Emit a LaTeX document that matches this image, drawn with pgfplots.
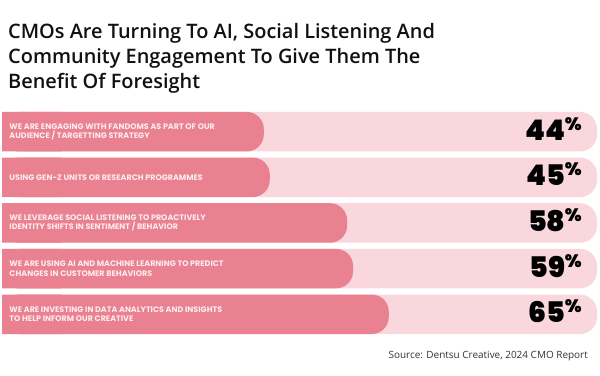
\documentclass[border=0pt]{standalone}
\usepackage{fontspec}
\usepackage{pgfplots}
\pgfplotsset{compat=1.18}
\setmainfont{Open Sans}
\IfFontExistsTF{Open Sans SemiBold}
  {\newfontfamily\titlefont{Open Sans SemiBold}}
  {\IfFontExistsTF{Open Sans Semibold}
     {\newfontfamily\titlefont{Open Sans Semibold}}
     {\newfontfamily\titlefont{Open Sans}[FakeBold=1.3]}}
\newfontfamily\labfont{Poppins}
\IfFontExistsTF{Poppins Black}
  {\newfontfamily\pctfont{Poppins Black}}
  {\IfFontExistsTF{Poppins ExtraBold}
     {\newfontfamily\pctfont{Poppins ExtraBold}}
     {\newfontfamily\pctfont{Poppins Bold}}}
\definecolor{fg}{RGB}{233,129,144}
\definecolor{bg}{RGB}{249,215,220}
\definecolor{labtext}{RGB}{253,236,239}
\definecolor{titlec}{RGB}{17,17,17}
\newcommand{\pct}[1]{{\pctfont\fontsize{28.5}{28.5}\selectfont #1\kern-0.5bp\raisebox{10bp}{\fontsize{18}{18}\selectfont\%}}}
\begin{document}
\begin{tikzpicture}[x=1bp,y=1bp]
\path (0,0) rectangle (600,375);
\node[anchor=base west, inner sep=0, text=titlec, font=\titlefont\fontsize{20}{24}\selectfont] at (8,337) {CMOs Are Turning To AI, Social Listening And};
\node[anchor=base west, inner sep=0, text=titlec, font=\titlefont\fontsize{20}{24}\selectfont] at (8,312) {Community Engagement To Give Them The};
\node[anchor=base west, inner sep=0, text=titlec, font=\titlefont\fontsize{20}{24}\selectfont] at (8,287) {Benefit Of Foresight};
\node[anchor=base east, inner sep=0, text=black!80, font=\fontsize{10}{12}\selectfont] at (588,16.5) {Source: Dentsu Creative, 2024 CMO Report};
\begin{axis}[
  at={(2bp,37.9bp)}, anchor=south west,
  scale only axis, width=595bp, height=228.25bp,
  xmin=0, xmax=100, ymin=0.5, ymax=5.5, y dir=reverse,
  axis lines=none, ticks=none, clip=false,
]
\addplot[xbar, bar shift=0pt, bar width=39.5bp, fill=bg, draw=none, rounded corners=17bp]
  coordinates {(100,1) (100,2) (100,3) (100,4) (100,5)};
\addplot[xbar, bar shift=0pt, bar width=39.5bp, fill=fg, draw=none, rounded corners=17bp]
  coordinates {(44,1) (45,2) (58,3) (59,4) (65,5)};
\addplot[xbar, bar shift=0pt, bar width=39.5bp, fill=fg, draw=none]
  coordinates {(10,1) (10,2) (10,3) (10,4) (10,5)};
\begin{scope}[every node/.style={anchor=west, align=left, inner sep=0, xshift=7.3bp, text=labtext, font=\labfont\bfseries\fontsize{8}{9.3}\selectfont}]
\node at (axis cs:0,1) {WE ARE ENGAGING WITH FANDOMS AS PART OF OUR\\AUDIENCE / TARGETTING STRATEGY};
\node at (axis cs:0,2) {USING GEN-Z UNITS OR RESEARCH PROGRAMMES};
\node at (axis cs:0,3) {WE LEVERAGE SOCIAL LISTENING TO PROACTIVELY\\IDENTITY SHIFTS IN SENTIMENT / BEHAVIOR};
\node at (axis cs:0,4) {WE ARE USING AI AND MACHINE LEARNING TO PREDICT\\CHANGES IN CUSTOMER BEHAVIORS};
\node at (axis cs:0,5) {WE ARE INVESTING IN DATA ANALYTICS AND INSIGHTS\\TO HELP INFORM OUR CREATIVE};
\end{scope}
\begin{scope}[every node/.style={anchor=base east, inner sep=0, xshift=-15bp, yshift=-8.5bp, text=black}]
\node at (axis cs:100,1) {\pct{44}};
\node at (axis cs:100,2) {\pct{45}};
\node at (axis cs:100,3) {\pct{58}};
\node at (axis cs:100,4) {\pct{59}};
\node at (axis cs:100,5) {\pct{65}};
\end{scope}
\end{axis}
\end{tikzpicture}
\end{document}
